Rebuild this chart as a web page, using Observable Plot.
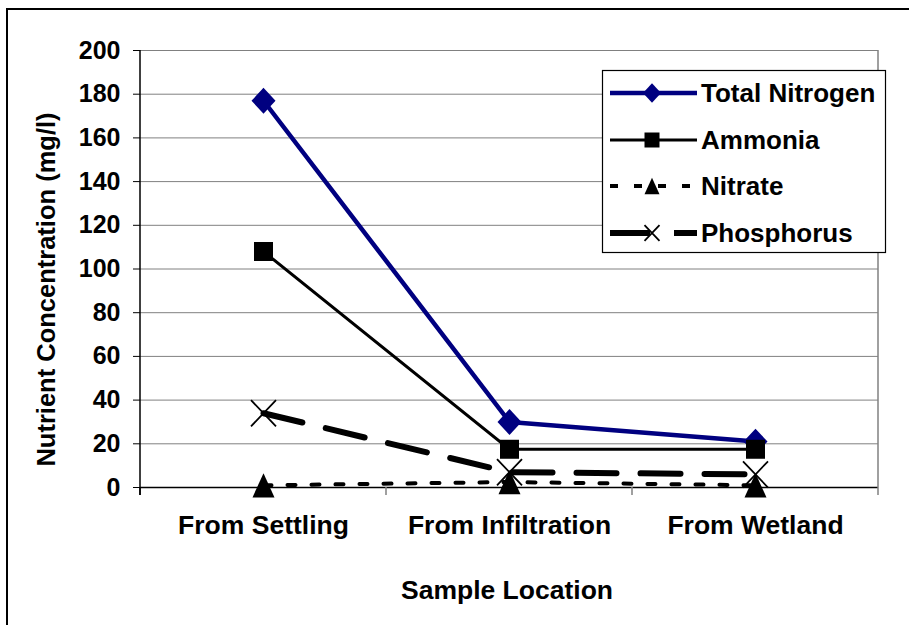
<!DOCTYPE html>
<html><head><meta charset="utf-8">
<script src="https://cdn.jsdelivr.net/npm/d3@7"></script>
<script src="https://cdn.jsdelivr.net/npm/@observablehq/plot@0.6"></script>
<style>
body{margin:0;background:#fff;}
#chart svg{font-family:"Liberation Sans",Arial,sans-serif;font-weight:bold;}
</style>
</head><body><div id="chart"></div><script>
// ---- data ----
const locations = ["From Settling", "From Infiltration", "From Wetland"];
const seriesNames = ["Total Nitrogen", "Ammonia", "Nitrate", "Phosphorus"];
const totalNitrogen = [177, 30, 21];
const ammonia = [108, 17.5, 17.5];
const nitrate = [1, 2.5, 1];
const phosphorus = [34, 7, 6];
const yTicks = [0, 20, 40, 60, 80, 100, 120, 140, 160, 180, 200];
const yTitle = "Nutrient Concentration (mg/l)";
const xTitle = "Sample Location";

// ---- symbols (r = half size) ----
const rOf = size => Math.sqrt(size / Math.PI);
const symDiamond = {draw(c, s){const r=rOf(s); c.moveTo(0,-r*1.08); c.lineTo(r,0); c.lineTo(0,r*1.08); c.lineTo(-r,0); c.closePath();}};
const symSquare = {draw(c, s){const r=rOf(s); c.rect(-r,-r,2*r,2*r);}};
const symTriangle = {draw(c, s){const r=rOf(s); c.moveTo(0,-r*1.1); c.lineTo(r,r*1.1); c.lineTo(-r,r*1.1); c.closePath();}};
const symTimes = {draw(c, s){const r=rOf(s); c.moveTo(-r,-r*1.05); c.lineTo(r,r*1.05); c.moveTo(r,-r*1.05); c.lineTo(-r,r*1.05);}};

const values = [totalNitrogen, ammonia, nitrate, phosphorus];
const styles = [
  {color:"#000080", width:4.5, dash:null, symbol:symDiamond, r:12, fill:"#000080", mstroke:"none", msw:0},
  {color:"#000000", width:3, dash:null, symbol:symSquare, r:9.5, fill:"#000000", mstroke:"none", msw:0},
  {color:"#000000", width:4, dash:"8,16", symbol:symTriangle, r:11, fill:"#000000", mstroke:"none", msw:0},
  {color:"#000000", width:6, dash:"40,24", symbol:symTimes, r:12.5, fill:"none", mstroke:"#000000", msw:1.8}
];

const rows = seriesNames.flatMap((s, i) => locations.map((loc, j) => ({series: s, location: loc, value: values[i][j]})));
const rowsOf = s => rows.filter(d => d.series === s);

const plot = Plot.plot({
  width: 909, height: 625,
  marginLeft: 140, marginRight: 31, marginTop: 50, marginBottom: 138,
  style: {background: "white", color: "black", fontFamily: "Liberation Sans, Arial, sans-serif", fontWeight: "bold"},
  x: {type: "point", domain: locations, padding: 0.5, label: null},
  y: {domain: [0, 200], label: null},
  marks: [
    Plot.gridY(yTicks, {stroke: "#808080", strokeOpacity: 1, strokeWidth: 1}),
    Plot.axisY(yTicks, {tickSize: 7, tickPadding: 13, fontSize: 25, fontWeight: "bold", label: null, stroke: "black"}),
    Plot.axisX({tickSize: 0, tickPadding: 28, fontSize: 26.5, fontWeight: "bold", label: null}),
    Plot.ruleY([0], {stroke: "black", strokeWidth: 1.5}),
    ...seriesNames.map((s, i) => Plot.line(rowsOf(s), {x: "location", y: "value", stroke: styles[i].color, strokeWidth: styles[i].width, strokeDasharray: styles[i].dash, strokeLinejoin: "miter"})),
    ...seriesNames.map((s, i) => Plot.dot(rowsOf(s), {x: "location", y: "value", symbol: () => styles[i].symbol, r: styles[i].r, fill: styles[i].fill, stroke: styles[i].mstroke, strokeWidth: styles[i].msw}))
  ]
});

const svg = d3.select(plot);
const xs = plot.scale("x"), ys = plot.scale("y");
const px = locations.map(l => xs.apply(l));
const step = px[1] - px[0];
const left = px[0] - step / 2, right = px[px.length - 1] + step / 2;
const y0 = ys.apply(0), yTop = ys.apply(200);
const deco = svg.append("g");
// boundary ticks and right gray border
[...px.map(p => p - step / 2), right].forEach((b, i) => {
  deco.append("line").attr("x1", b).attr("x2", b).attr("y1", y0).attr("y2", y0 + 8)
    .attr("stroke", i === 0 ? "black" : "#808080").attr("stroke-width", 1.5);
});
deco.append("line").attr("x1", right).attr("x2", right).attr("y1", yTop).attr("y2", y0).attr("stroke", "#808080").attr("stroke-width", 1.5);
deco.append("line").attr("x1", left).attr("x2", left).attr("y1", yTop).attr("y2", y0 + 8).attr("stroke", "black").attr("stroke-width", 1.5);
// outer border (top and left visible)
deco.append("path").attr("d", "M7,625V9H909").attr("fill", "none").attr("stroke", "black").attr("stroke-width", 2);
// titles
deco.append("text").attr("transform", `translate(55,${(y0 + yTop) / 2 + 21}) rotate(-90)`).attr("text-anchor", "middle")
  .attr("font-size", 25.5).attr("font-weight", "bold").attr("fill", "black").text(yTitle);
deco.append("text").attr("x", (left + right) / 2 - 2).attr("y", 599).attr("text-anchor", "middle")
  .attr("font-size", 26.5).attr("font-weight", "bold").attr("fill", "black").text(xTitle);
// legend
const lg = svg.append("g");
lg.append("rect").attr("x", 602.5).attr("y", 70.5).attr("width", 283).attr("height", 182).attr("fill", "white").attr("stroke", "black").attr("stroke-width", 1.2);
const legY = [93, 140, 186, 233];
seriesNames.forEach((s, i) => {
  const st = styles[i], y = legY[i];
  lg.append("line").attr("x1", 610).attr("x2", 697).attr("y1", y).attr("y2", y).attr("stroke", st.color)
    .attr("stroke-width", st.width).attr("stroke-dasharray", st.dash);
  lg.append("path").attr("transform", `translate(652,${y})`).attr("d", d3.symbol(st.symbol, Math.PI * (i === 0 ? 9 : 7.5) ** 2)())
    .attr("fill", st.fill).attr("stroke", st.mstroke).attr("stroke-width", st.msw);
  lg.append("text").attr("x", 701).attr("y", y + 9).attr("text-anchor", "start").attr("font-size", 26).attr("font-weight", "bold").attr("fill", "black").text(s);
});
document.getElementById("chart").appendChild(plot);
</script></body></html>
